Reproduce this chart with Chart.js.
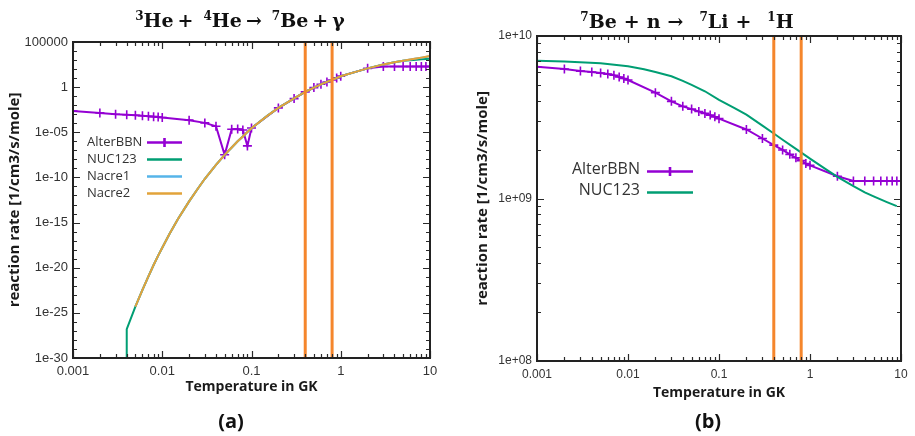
<!DOCTYPE html>
<html>
<head>
<meta charset="utf-8">
<script src="https://cdn.jsdelivr.net/npm/chart.js@4.4.1/dist/chart.umd.min.js"></script>
<style>
  html, body { margin: 0; padding: 0; background: #fff; }
  #wrap { position: relative; width: 915px; height: 436px; overflow: hidden; background: #fff; }
  #wrap canvas { position: absolute; top: 0; }
  .ttl { position: absolute; transform: translate(-50%, -50%); white-space: nowrap;
         font-family: "DejaVu Serif", serif; font-weight: bold; font-size: 19px; line-height: 1; color: #111; }
  .ttl sup { font-size: 12px; vertical-align: baseline; position: relative; top: -0.55em; margin-left: 6px; }
  .ttl .op { margin: 0 4px; }
  #ttlB .op { margin: 0 7px; }
  #ttlB sup { margin-left: 9px; }
  .tag { position: absolute; transform: translate(-50%, -50%); font-family: "Open Sans", sans-serif;
         font-weight: bold; font-size: 20px; line-height: 1; color: #111; }
</style>
</head>
<body>
<div id="wrap">
  <canvas id="chartA" width="460" height="436" style="left:0"></canvas>
  <canvas id="chartB" width="455" height="436" style="left:460px"></canvas>
  <div class="ttl" style="left:240px; top:20px"><sup style="margin-left:0">3</sup>He<span class="op">+</span><sup>4</sup>He<span class="op">→</span><sup>7</sup>Be<span class="op">+</span>γ</div>
  <div class="ttl" id="ttlB" style="left:687px; top:21px"><sup style="margin-left:0">7</sup>Be<span class="op">+</span>n<span class="op">→</span><sup>7</sup>Li<span class="op">+</span><sup>1</sup>H</div>
  <div class="tag" style="left:231px; top:421px">(a)</div>
  <div class="tag" style="left:708px; top:421px">(b)</div>
</div>
<script>
// Temperature axis (GK), shared by both panels
const xTickValues = [0.001, 0.01, 0.1, 1, 10];
const xTickLabels = ['0.001', '0.01', '0.1', '1', '10'];

// Panel (a): 3He + 4He -> 7Be + gamma, rate in 1/cm3/s/mole
const yTickValuesA = [1e-30, 1e-25, 1e-20, 1e-15, 1e-10, 1e-5, 1, 1e5];
const yTickLabelsA = ['1e-30', '1e-25', '1e-20', '1e-15', '1e-10', '1e-05', '1', '100000'];

const tAlterA = [0.001, 0.002, 0.003, 0.004, 0.005, 0.006, 0.007, 0.008, 0.009,
                 0.01, 0.02, 0.03, 0.04, 0.05, 0.06, 0.07, 0.08, 0.09,
                 0.1, 0.2, 0.3, 0.4, 0.5, 0.6, 0.7, 0.8, 0.9,
                 1, 2, 3, 4, 5, 6, 7, 8, 9, 10];
const rateAlterA = [2.3e-3, 1.4e-3, 1.0e-3, 8.7e-4, 7.8e-4, 6.8e-4, 6.0e-4, 5.4e-4, 4.9e-4,
                    4.3e-4, 2.2e-4, 1.1e-4, 4.7e-5, 3.2e-8, 2.2e-5, 2.3e-5, 1.8e-5, 3.1e-7,
                    3.0e-5, 5.0e-3, 5.4e-2, 0.30, 0.89, 2.1, 3.7, 6.3, 10.5,
                    16.6, 120, 190, 190, 190, 190, 190, 190, 190, 190];

const tCurveA = [0.005, 0.006, 0.007, 0.008, 0.009, 0.01, 0.012, 0.015, 0.02, 0.025, 0.03,
                 0.04, 0.05, 0.06, 0.07, 0.08, 0.09, 0.1, 0.15, 0.2, 0.3, 0.4, 0.5, 0.6,
                 0.7, 0.8, 0.9, 1, 1.5, 2, 3, 4, 5, 6, 7, 8, 9, 10];
const rateNacre2A = [5.0e-25, 3.5e-23, 1.1e-21, 2.0e-20, 2.2e-19, 1.6e-18, 5.0e-17, 2.5e-15, 2.2e-13, 5.6e-12, 7.1e-11,
                     2.5e-9, 3.2e-8, 2.1e-7, 1.0e-6, 3.5e-6, 1.05e-5, 2.8e-5, 6.6e-4, 5.0e-3, 5.8e-2, 0.29, 0.87, 2.0,
                     3.8, 6.5, 10.2, 16, 52, 120, 330, 575, 850, 1150, 1480, 1860, 2290, 2820];
const rateNacre1A = [5.0e-25, 3.5e-23, 1.1e-21, 2.0e-20, 2.2e-19, 1.6e-18, 5.0e-17, 2.5e-15, 2.2e-13, 5.6e-12, 7.1e-11,
                     2.5e-9, 3.2e-8, 2.1e-7, 1.0e-6, 3.5e-6, 1.05e-5, 2.8e-5, 6.6e-4, 5.0e-3, 5.8e-2, 0.29, 0.87, 2.0,
                     3.8, 6.5, 10.2, 16, 52, 120, 330, 570, 840, 1130, 1450, 1820, 2240, 2750];
// NUC123 has no tabulated rate below 0.004 GK: it rises from the floor of the axis
const tNucA = [0.004, 0.004, 0.005, 0.006, 0.007, 0.008, 0.009, 0.01, 0.012, 0.015, 0.02, 0.025, 0.03,
               0.04, 0.05, 0.06, 0.07, 0.08, 0.09, 0.1, 0.15, 0.2, 0.3, 0.4, 0.5, 0.6,
               0.7, 0.8, 0.9, 1, 1.5, 2, 3, 4, 5, 6, 7, 8, 9, 10];
const rateNucA = [1e-30, 1.6e-27, 5.0e-25, 3.5e-23, 1.1e-21, 2.0e-20, 2.2e-19, 1.6e-18, 5.0e-17, 2.5e-15, 2.2e-13, 5.6e-12, 7.1e-11,
                  2.5e-9, 3.2e-8, 2.1e-7, 1.0e-6, 3.5e-6, 1.05e-5, 2.8e-5, 6.6e-4, 5.0e-3, 5.8e-2, 0.29, 0.87, 2.0,
                  3.8, 6.5, 10.2, 16, 52, 120, 330, 570, 830, 960, 1100, 1260, 1340, 1400];

// Panel (b): 7Be + n -> 7Li + 1H
const yTickValuesB = [1e8, 1e9, 1e10];
const yTickLabelsB = ['1e+08', '1e+09', '1e+10'];

const tAlterB = tAlterA;
const rateAlterB = [6.47e9, 6.26e9, 6.08e9, 6.0e9, 5.91e9, 5.83e9, 5.73e9, 5.59e9, 5.48e9,
                    5.36e9, 4.48e9, 3.96e9, 3.69e9, 3.55e9, 3.43e9, 3.34e9, 3.26e9, 3.18e9,
                    3.10e9, 2.66e9, 2.34e9, 2.13e9, 1.99e9, 1.87e9, 1.78e9, 1.71e9, 1.64e9,
                    1.60e9, 1.37e9, 1.28e9, 1.28e9, 1.28e9, 1.28e9, 1.28e9, 1.28e9, 1.28e9, 1.28e9];

const tNucB = [0.001, 0.002, 0.005, 0.01, 0.015, 0.02, 0.03, 0.04, 0.05, 0.07, 0.1, 0.15, 0.2,
               0.3, 0.4, 0.5, 0.7, 1, 1.5, 2, 3, 4, 5, 7, 9];
const rateNucB = [7.05e9, 6.96e9, 6.80e9, 6.52e9, 6.25e9, 6.0e9, 5.65e9, 5.30e9, 5.0e9, 4.57e9, 4.05e9, 3.59e9, 3.28e9,
                  2.81e9, 2.51e9, 2.30e9, 2.02e9, 1.76e9, 1.51e9, 1.36e9, 1.19e9, 1.09e9, 1.03e9, 9.5e8, 8.97e8];

// Temperatures marked with vertical lines in both panels
const markTemps = [0.4, 0.8];

const COLORS = { alter: '#9400d3', nuc: '#009e73', nacre1: '#56b4e9', nacre2: '#e2a33a', mark: '#f5862c' };

const pts = (ts, vs) => ts.map((t, i) => ({ x: t, y: vs[i] }));

function alterSet(label, ts, vs) {
  return { label, data: pts(ts, vs), borderColor: COLORS.alter, backgroundColor: COLORS.alter,
           borderWidth: 2, pointStyle: 'cross', pointRadius: 4.5, pointBorderWidth: 1.6,
           pointBorderColor: COLORS.alter, order: 9, inLegend: true };
}
function curveSet(label, ts, vs, color, order) {
  return { label, data: pts(ts, vs), borderColor: color, backgroundColor: color,
           borderWidth: 2, pointRadius: 0, order, inLegend: true };
}
function markSets(yMin, yMax) {
  return markTemps.map(t => ({ label: 'T = ' + t, data: [{ x: t, y: yMin }, { x: t, y: yMax }],
                               borderColor: COLORS.mark, borderWidth: 3, pointRadius: 0, order: 0 }));
}

// Frame with inward major/minor ticks on all four sides
const frameTicks = {
  id: 'frameTicks',
  afterDraw(chart, args, o) {
    const { ctx, chartArea: a, scales: { x, y } } = chart;
    ctx.save();
    ctx.strokeStyle = '#2a2a2a';
    ctx.lineWidth = 1.2;
    ctx.beginPath();
    const logTicks = (min, max, minorSteps, majorEvery) => {
      const out = [];
      for (let d = Math.round(Math.log10(min)); d <= Math.round(Math.log10(max)); d++) {
        const base = Math.pow(10, d);
        if (minorSteps) {
          for (let m = 1; m <= 9; m++) {
            const v = m * base;
            if (v >= min * 0.999 && v <= max * 1.001) out.push({ v, major: m === 1 });
          }
        } else {
          out.push({ v: base, major: ((d % majorEvery) + majorEvery) % majorEvery === 0 });
        }
      }
      return out;
    };
    logTicks(x.min, x.max, true).forEach(t => {
      const px = Math.round(x.getPixelForValue(t.v)) + 0.5;
      const len = t.major ? 7 : 4;
      ctx.moveTo(px, a.bottom); ctx.lineTo(px, a.bottom - len);
      ctx.moveTo(px, a.top); ctx.lineTo(px, a.top + len);
    });
    logTicks(y.min, y.max, o.yMinor, o.yMajorEvery).forEach(t => {
      const py = Math.round(y.getPixelForValue(t.v)) + 0.5;
      const len = t.major ? 7 : 4;
      ctx.moveTo(a.left, py); ctx.lineTo(a.left + len, py);
      ctx.moveTo(a.right, py); ctx.lineTo(a.right - len, py);
    });
    ctx.stroke();
    ctx.lineWidth = 2;
    ctx.strokeStyle = '#222';
    ctx.strokeRect(a.left, a.top, a.right - a.left, a.bottom - a.top);
    ctx.restore();
  }
};

// Key drawn inside the plot: label text followed by a line sample
const innerLegend = {
  id: 'innerLegend',
  afterDraw(chart, args, o) {
    const { ctx } = chart;
    const sets = chart.data.datasets.filter(d => d.inLegend);
    ctx.save();
    ctx.font = o.font;
    ctx.textBaseline = 'middle';
    ctx.textAlign = o.align;
    sets.forEach((ds, i) => {
      const yy = o.y + i * o.rowH;
      ctx.fillStyle = '#333';
      ctx.fillText(ds.label, o.textX, yy);
      const ly = Math.round(yy + o.lineDy) + 0.5;
      ctx.strokeStyle = ds.borderColor;
      ctx.lineWidth = ds.borderWidth + 0.6;
      ctx.beginPath();
      ctx.moveTo(o.x0, ly); ctx.lineTo(o.x1, ly);
      if (ds.pointStyle === 'cross') {
        const cx = (o.x0 + o.x1) / 2, r = ds.pointRadius;
        ctx.moveTo(cx, ly - r); ctx.lineTo(cx, ly + r);
      }
      ctx.stroke();
    });
    ctx.restore();
  }
};

function buildChart(id, spec) {
  return new Chart(document.getElementById(id), {
    type: 'line',
    data: { datasets: spec.datasets },
    options: {
      responsive: false,
      animation: false,
      devicePixelRatio: 1,
      events: [],
      layout: { padding: spec.padding },
      elements: { line: { tension: 0 } },
      plugins: {
        legend: { display: false },
        tooltip: { enabled: false },
        frameTicks: spec.frame,
        innerLegend: spec.legend
      },
      scales: {
        x: {
          type: 'logarithmic', min: 0.001, max: 10,
          grid: { display: false, drawTicks: false }, border: { display: false },
          ticks: { autoSkip: false, maxRotation: 0, padding: spec.xTickPad, color: '#333',
                   font: { family: 'Liberation Sans', size: spec.tickSize },
                   callback: (v, i) => xTickLabels[i] },
          afterBuildTicks: s => { s.ticks = xTickValues.map(v => ({ value: v })); },
          afterFit: s => { s.height = spec.xHeight; s.paddingLeft = 0; s.paddingRight = 0; },
          title: { display: true, text: 'Temperature in GK', color: '#1a1a1a',
                   font: { family: 'Open Sans', weight: 'bold', size: 14 }, padding: { top: 0, bottom: 4 } }
        },
        y: {
          type: 'logarithmic', min: spec.yTicks[0], max: spec.yTicks[spec.yTicks.length - 1],
          grid: { display: false, drawTicks: false }, border: { display: false },
          ticks: { autoSkip: false, padding: 5, color: '#333',
                   font: { family: 'Liberation Sans', size: spec.tickSize },
                   callback: (v, i) => spec.yLabels[i] },
          afterBuildTicks: s => { s.ticks = spec.yTicks.map(v => ({ value: v })); },
          afterFit: s => { s.width = spec.yWidth; s.paddingTop = 0; s.paddingBottom = 0; },
          title: { display: true, text: 'reaction rate [1/cm3/s/mole]', color: '#1a1a1a',
                   font: { family: 'Open Sans', weight: 'bold', size: 15 }, padding: { top: 5, bottom: 4 } }
        }
      }
    },
    plugins: [frameTicks, innerLegend]
  });
}

buildChart('chartA', {
  datasets: [
    alterSet('AlterBBN', tAlterA, rateAlterA),
    curveSet('NUC123', tNucA, rateNucA, COLORS.nuc, 8),
    curveSet('Nacre1', tCurveA, rateNacre1A, COLORS.nacre1, 7),
    curveSet('Nacre2', tCurveA, rateNacre2A, COLORS.nacre2, 6),
    ...markSets(1e-30, 1e5)
  ],
  yTicks: yTickValuesA, yLabels: yTickLabelsA,
  padding: { top: 42, right: 30, bottom: 37, left: 1 },
  yWidth: 72, xHeight: 41, xTickPad: 6, tickSize: 13,
  frame: { yMinor: false, yMajorEvery: 5 },
  legend: { font: '13px "Open Sans"', align: 'left', textX: 87, y: 142, rowH: 17, lineDy: 0, x0: 147, x1: 182 }
});

buildChart('chartB', {
  datasets: [
    alterSet('AlterBBN', tAlterB, rateAlterB),
    curveSet('NUC123', tNucB, rateNucB, COLORS.nuc, 8),
    ...markSets(1e8, 1e10)
  ],
  yTicks: yTickValuesB, yLabels: yTickLabelsB,
  padding: { top: 36, right: 14, bottom: 31, left: 9 },
  yWidth: 68, xHeight: 44, xTickPad: 6, tickSize: 12,
  frame: { yMinor: true, yMajorEvery: 1 },
  legend: { font: '16px "Open Sans"', align: 'right', textX: 180, y: 169, rowH: 21, lineDy: 1.5, x0: 187, x1: 233 }
});
</script>
</body>
</html>
